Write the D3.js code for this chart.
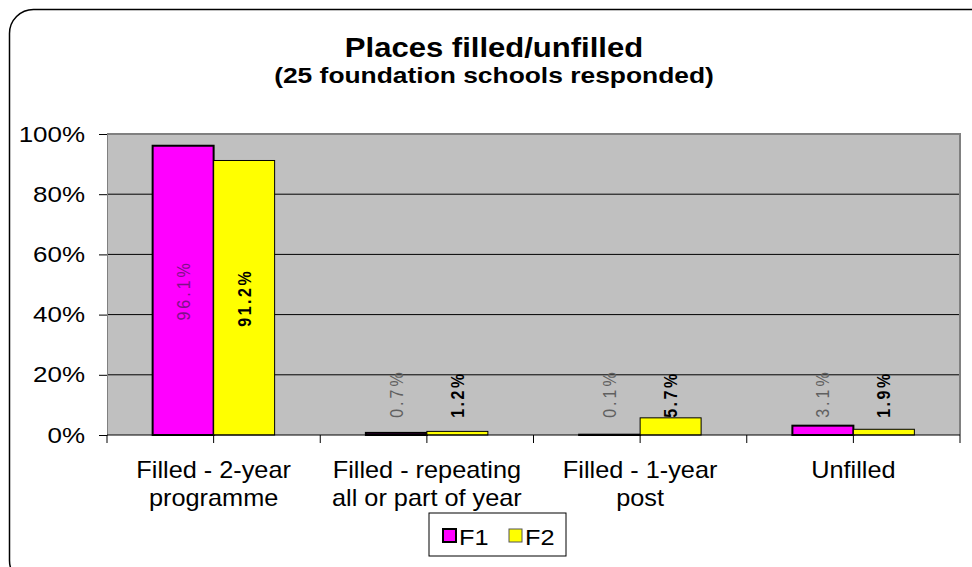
<!DOCTYPE html>
<html>
<head>
    <script src="https://d3js.org/d3.v7.min.js"></script>
    <style>
        body { margin: 0; background: #fff; }
        text { font-family: "Liberation Sans", Arial, sans-serif; }
    </style>
</head>
<body>
    <svg width="972" height="567"></svg>
    <script>
    // chart data
    var categories = [["Filled - 2-year", "programme"], ["Filled - repeating", "all or part of year"], ["Filled - 1-year", "post"], ["Unfilled"]];
    var seriesNames = ["F1", "F2"];
    var f1Values = [96.1, 0.7, 0.1, 3.1];
    var f2Values = [91.2, 1.2, 5.7, 1.9];
    var yTicks = [0, 20, 40, 60, 80, 100];

    var colors = {F1: "#ff00ff", F2: "#ffff00"};
    var outsideLabelFloor = 5.7; // small-bar labels all start at this height

    var svg = d3.select("svg");
    var plotLeft = 107, plotTop = 134, width = 853, height = 301;

    // outer rounded frame
    svg.append("rect").attr("x", 9.5).attr("y", 9.5).attr("width", 990).attr("height", 575)
        .attr("rx", 24).attr("fill", "#fff").attr("stroke", "#000").attr("stroke-width", 1.5);

    // text in the picture is a little stretched sideways
    function stretched(sel, x, y, sx, extra) {
        return sel.attr("transform", "translate(" + x + "," + y + ") scale(" + sx + ",1)" + (extra || ""));
    }

    // titles
    stretched(svg.append("text"), 494, 57, 1.15).attr("text-anchor", "middle")
        .attr("font-size", 27).attr("font-weight", "bold").text("Places filled/unfilled");
    stretched(svg.append("text"), 494, 83, 1.2).attr("text-anchor", "middle")
        .attr("font-size", 22).attr("font-weight", "bold").text("(25 foundation schools responded)");

    var g = svg.append("g").attr("transform", "translate(" + plotLeft + "," + plotTop + ")");

    var x0 = d3.scaleBand().domain(d3.range(categories.length)).range([0, width]).paddingInner(0.428).paddingOuter(0.214);
    var x1 = d3.scaleBand().domain(seriesNames).range([0, x0.bandwidth()]);
    var slot = d3.scaleLinear().domain([0, categories.length]).range([0, width]);
    var y = d3.scaleLinear().domain([0, 100]).range([height, 0]);

    g.append("rect").attr("width", width).attr("height", height).attr("fill", "#c0c0c0");

    // gridlines
    g.selectAll(".grid").data(yTicks.slice(1)).join("line")
        .attr("x1", 0).attr("x2", width)
        .attr("y1", function(d){ return y(d); }).attr("y2", function(d){ return y(d); })
        .attr("stroke", "#000").attr("stroke-width", 1);

    // plot border (top/right)
    g.append("path").attr("d", "M0,0H" + width + "V" + height)
        .attr("fill", "none").attr("stroke", "#808080").attr("stroke-width", 2);

    // y axis
    var yAxis = g.append("g").call(d3.axisLeft(y).tickValues(yTicks).tickFormat(function(d){ return d + "%"; }).tickSize(8).tickPadding(16));
    yAxis.select(".domain").attr("stroke", "#808080");
    yAxis.selectAll("text").attr("font-size", 22).attr("font-family", "Liberation Sans, Arial")
        .attr("transform", "scale(1.18,1)").attr("x", -22 / 1.18);

    // x axis ticks at every half category
    var halfTicks = d3.range(0, categories.length * 2 + 1).map(function(i){ return i / 2; });
    g.selectAll(".xt").data(halfTicks).join("line")
        .attr("x1", function(d){ return slot(d); }).attr("x2", function(d){ return slot(d); })
        .attr("y1", height).attr("y2", height + 8).attr("stroke", "#000");

    // bars
    var rows = categories.map(function(c, i){ return {i: i, values: [{s: "F1", v: f1Values[i]}, {s: "F2", v: f2Values[i]}]}; });
    var groups = g.selectAll(".cat").data(rows).join("g")
        .attr("transform", function(d){ return "translate(" + x0(d.i) + ",0)"; });

    groups.selectAll("rect").data(function(d){ return d.values; }).join("rect")
        .attr("x", function(d){ return x1(d.s); })
        .attr("y", function(d){ return y(d.v); })
        .attr("width", x1.bandwidth())
        .attr("height", function(d){ return height - y(d.v); })
        .attr("fill", function(d){ return colors[d.s]; })
        .attr("stroke", "#000")
        .attr("stroke-width", function(d){ return d.s === "F1" ? 2 : 1; });

    g.append("line").attr("x1", 0).attr("x2", width).attr("y1", height).attr("y2", height).attr("stroke", "#000");

    // value labels, rotated
    groups.selectAll(".lbl").data(function(d){ return d.values; }).join("text")
        .each(function(d){
            var cx = x1(d.s) + x1.bandwidth() / 2;
            var inside = d.v > 20;
            var ty = inside ? (y(d.v) + height) / 2 : Math.min(y(d.v), y(outsideLabelFloor));
            var t = d3.select(this)
                .attr("font-size", 16)
                .attr("dominant-baseline", "central")
                .attr("text-anchor", inside ? "middle" : "start")
                .attr("letter-spacing", d.s === "F1" ? 3 : 2.5)
                .attr("font-weight", d.s === "F1" ? "normal" : "bold")
                .attr("fill", d.s === "F2" ? "#000" : (inside ? "#80108a" : "#606060"))
                .text(d.v.toFixed(1) + "%");
            stretched(t, cx, ty, 1.2, " rotate(-90)");
        });

    // category labels
    categories.forEach(function(lines, i){
        lines.forEach(function(line, j){
            stretched(g.append("text"), slot(i + 0.5), height + 43 + j * 28, 1.1)
                .attr("text-anchor", "middle").attr("font-size", 23).text(line);
        });
    });

    // legend
    var lg = svg.append("g").attr("transform", "translate(429,513)");
    lg.append("rect").attr("width", 137).attr("height", 43).attr("fill", "#fff").attr("stroke", "#000");
    seriesNames.forEach(function(s, i){
        var ox = 14 + i * 66;
        lg.append("rect").attr("x", ox).attr("y", 16).attr("width", 13).attr("height", 13)
            .attr("fill", colors[s]).attr("stroke", s === "F1" ? "#000" : "#555")
            .attr("stroke-width", s === "F1" ? 2 : 1);
        stretched(lg.append("text"), ox + 16, 32, 1.15).attr("font-size", 22).text(s);
    });
    </script>
</body>
</html>
